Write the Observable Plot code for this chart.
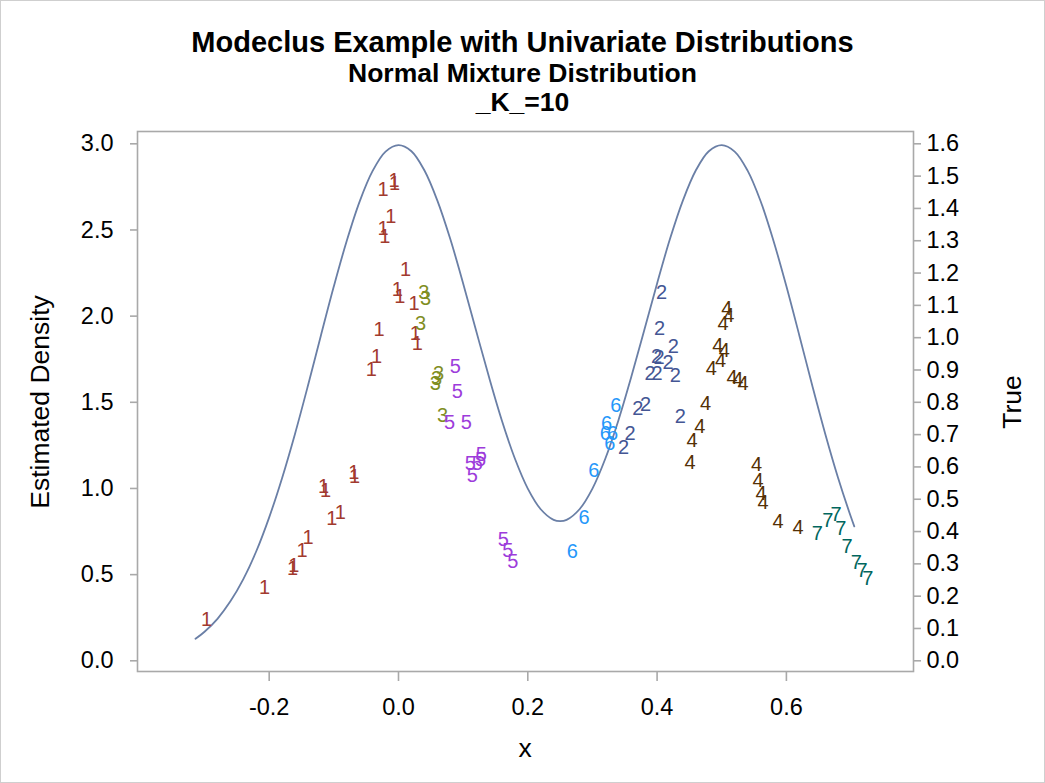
<!DOCTYPE html>
<html><head><meta charset="utf-8">
<script src="https://cdn.jsdelivr.net/npm/d3@7"></script>
<script src="https://cdn.jsdelivr.net/npm/@observablehq/plot@0.6"></script>
<style>
body{margin:0;background:#fff;font-family:"Liberation Sans",Arial,sans-serif;}
#wrap{position:relative;width:1045px;height:783px;overflow:hidden;background:#fff}
#border{position:absolute;left:0;top:0;width:1043px;height:781px;border:1px solid #cfcfcf}
.t{position:absolute;left:0;width:1045px;text-align:center;font-weight:bold;color:#000;line-height:1;white-space:nowrap}
.lab{position:absolute;line-height:1;white-space:nowrap;color:#000;font-size:26.5px}
#chart{position:absolute;left:0;top:120px}
</style></head><body>
<div id="wrap">
<div id="border"></div>
<div class="t" style="top:27.5px;font-size:29px">Modeclus Example with Univariate Distributions</div>
<div class="t" style="top:59.6px;font-size:26.5px">Normal Mixture Distribution</div>
<div class="t" style="top:88.6px;font-size:26.5px">_K_=10</div>
<div id="chart"></div>
<div class="lab" style="left:40px;top:402px;transform:translate(-50%,-50%) rotate(-90deg)">Estimated Density</div>
<div class="lab" style="left:1012px;top:402px;transform:translate(-50%,-50%) rotate(-90deg)">True</div>
<div class="lab" style="left:525px;top:748px;transform:translate(-50%,-50%)">x</div>
</div>
<script>
// Tick values
const xTicks = [-0.2, 0.0, 0.2, 0.4, 0.6];
const densityTicks = [0.0, 0.5, 1.0, 1.5, 2.0, 2.5, 3.0];
const trueTicks = [0.0, 0.1, 0.2, 0.3, 0.4, 0.5, 0.6, 0.7, 0.8, 0.9, 1.0, 1.1, 1.2, 1.3, 1.4, 1.5, 1.6];
const trueMax = 1.6, densityMax = 3.0; // right axis 1.6 aligns with left axis 3.0

// True density curve
const curveX = [-0.314, -0.30, -0.28, -0.26, -0.24, -0.22, -0.20, -0.18, -0.16, -0.14, -0.12, -0.10, -0.08, -0.06, -0.04, -0.02,
  0.00, 0.02, 0.04, 0.06, 0.08, 0.10, 0.12, 0.14, 0.16, 0.18, 0.20, 0.22, 0.24, 0.25, 0.26, 0.28, 0.30, 0.32, 0.34, 0.36, 0.38,
  0.40, 0.42, 0.44, 0.46, 0.48, 0.50, 0.52, 0.54, 0.56, 0.58, 0.60, 0.62, 0.64, 0.66, 0.68, 0.70, 0.705];
const curveTrue = [0.068, 0.090, 0.130, 0.184, 0.253, 0.339, 0.444, 0.566, 0.703, 0.852, 1.007, 1.159, 1.300, 1.422, 1.516, 1.576,
  1.596, 1.577, 1.518, 1.425, 1.306, 1.168, 1.022, 0.878, 0.743, 0.626, 0.533, 0.469, 0.436, 0.432, 0.436, 0.469, 0.533, 0.626, 0.743, 0.878, 1.022,
  1.168, 1.306, 1.425, 1.518, 1.577, 1.596, 1.576, 1.517, 1.423, 1.300, 1.159, 1.007, 0.852, 0.703, 0.566, 0.444, 0.416];

// Observations: x, estimated density, cluster
const pointX = [
  -0.297, -0.207, -0.164, -0.162, -0.149, -0.140, -0.103, -0.090, -0.116, -0.113, -0.069, -0.068, -0.042, -0.034, -0.030,
  -0.024, -0.007, -0.006, -0.024, -0.021, -0.012, 0.011, -0.002, 0.002, 0.024, 0.026, 0.029,
  0.407, 0.404, 0.425, 0.399, 0.403, 0.417, 0.389, 0.400, 0.428, 0.370, 0.382, 0.436, 0.358, 0.348,
  0.039, 0.042, 0.034, 0.062, 0.059, 0.057, 0.068,
  0.508, 0.511, 0.502, 0.494, 0.504, 0.498, 0.484, 0.516, 0.525, 0.533, 0.475, 0.466, 0.454, 0.451, 0.554, 0.556, 0.561, 0.564, 0.587, 0.618,
  0.088, 0.091, 0.079, 0.105, 0.111, 0.122, 0.128, 0.127, 0.114, 0.162, 0.169, 0.177,
  0.336, 0.322, 0.320, 0.331, 0.327, 0.302, 0.287, 0.269,
  0.648, 0.664, 0.677, 0.684, 0.694, 0.708, 0.717, 0.726
];
const pointDensity = [
  0.238, 0.424, 0.536, 0.553, 0.640, 0.714, 0.824, 0.862, 1.012, 0.988, 1.095, 1.066, 1.689, 1.766, 1.921,
  2.734, 2.788, 2.771, 2.507, 2.463, 2.575, 2.269, 2.155, 2.114, 2.072, 1.898, 1.840,
  2.139, 1.927, 1.824, 1.766, 1.759, 1.733, 1.666, 1.666, 1.656, 1.466, 1.488, 1.418, 1.321, 1.240,
  2.139, 2.101, 1.956, 1.666, 1.637, 1.608, 1.424,
  2.043, 2.004, 1.956, 1.830, 1.801, 1.743, 1.695, 1.646, 1.631, 1.611, 1.495, 1.360, 1.279, 1.153, 1.139, 1.046, 0.969, 0.920, 0.810, 0.772,
  1.708, 1.565, 1.385, 1.385, 1.145, 1.145, 1.197, 1.168, 1.075, 0.702, 0.640, 0.578,
  1.482, 1.376, 1.317, 1.317, 1.259, 1.104, 0.833, 0.636,
  0.737, 0.814, 0.849, 0.766, 0.663, 0.572, 0.524, 0.476
];
const pointCluster = [
  1,1,1,1,1,1,1,1,1,1,1,1,1,1,1,1,1,1,1,1,1,1,1,1,1,1,1,
  2,2,2,2,2,2,2,2,2,2,2,2,2,2,
  3,3,3,3,3,3,3,
  4,4,4,4,4,4,4,4,4,4,4,4,4,4,4,4,4,4,4,4,
  5,5,5,5,5,5,5,5,5,5,5,5,
  6,6,6,6,6,6,6,6,
  7,7,7,7,7,7,7,7
];
const clusterIds = [1, 2, 3, 4, 5, 6, 7];
const clusterColors = ["#A23A2E", "#445694", "#7F8E1F", "#543005", "#9D3CDB", "#2597FA", "#01665E"];

const curve = curveX.map((x, i) => ({x, y: curveTrue[i] * densityMax / trueMax}));
const points = pointX.map((x, i) => ({x, y: pointDensity[i], c: pointCluster[i]}));

const axisGray = "#a9a9a9";
const chart = Plot.plot({
  width: 1045,
  height: 663,
  marginLeft: 137,
  marginRight: 132,
  marginTop: 11,
  marginBottom: 112,
  style: {fontFamily: "'Liberation Sans', Arial, sans-serif", fontSize: "23.5px", background: "transparent", color: "#000", overflow: "visible"},
  x: {domain: [-0.4037, 0.7966]},
  y: {domain: [-0.0621, 3.0714]},
  color: {domain: clusterIds, range: clusterColors},
  marks: [
    Plot.line(curve, {x: "x", y: "y", stroke: "#6a7fa6", strokeWidth: 1.8, curve: "catmull-rom"}),
    Plot.text(points, {x: "x", y: "y", text: d => String(d.c), fill: d => d.c, fontSize: 20}),
    Plot.frame({stroke: axisGray, strokeWidth: 1.6}),
    Plot.axisX({ticks: xTicks, tickSize: 10, tickPadding: 16.5, tickFormat: d => d.toFixed(1), label: null, stroke: axisGray, strokeWidth: 1.6}),
    Plot.axisY({ticks: densityTicks, anchor: "left", tickSize: 7, tickPadding: 17, tickFormat: d => d.toFixed(1), label: null, stroke: axisGray, strokeWidth: 1.6}),
    Plot.axisY({ticks: trueTicks.map(t => t * densityMax / trueMax), anchor: "right", tickSize: 7, tickPadding: 6,
      tickFormat: d => (d * trueMax / densityMax).toFixed(1), label: null, stroke: axisGray, strokeWidth: 1.6})
  ]
});
document.getElementById("chart").appendChild(chart);
</script>
</body></html>
